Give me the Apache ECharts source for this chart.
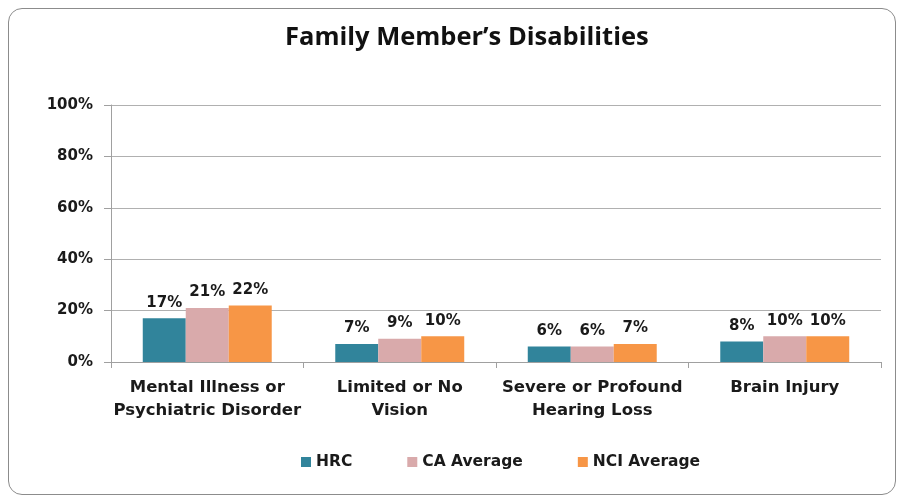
<!DOCTYPE html>
<html>
<head>
<meta charset="utf-8">
<script src="https://cdn.jsdelivr.net/npm/echarts@6/dist/echarts.min.js"></script>
<style>
  html, body { margin: 0; padding: 0; background: #fff; }
  #frame { position: absolute; left: 8px; top: 8px; width: 888px; height: 487px;
           border: 1.5px solid #8c8c8c; border-radius: 14px; box-sizing: border-box; }
  #chart { width: 902px; height: 502px; }
</style>
</head>
<body>
<div id="frame"></div>
<div id="chart"></div>
<script>
var categories = ['Mental Illness or\nPsychiatric Disorder', 'Limited or No\nVision', 'Severe or Profound\nHearing Loss', 'Brain Injury'];
var hrc = [17, 7, 6, 8];
var caAverage = [21, 9, 6, 10];
var nciAverage = [22, 10, 7, 10];
var yTicks = [0, 20, 40, 60, 80, 100];

var labelFont = 'DejaVu Sans';
var myChart = echarts.init(document.getElementById('chart'));

function barSeries(name, data, color) {
    return {
        name: name,
        type: 'bar',
        data: data,
        barGap: '0%',
        barCategoryGap: '33%',
        itemStyle: { color: color },
        label: {
            show: true,
            position: 'top',
            distance: 8,
            formatter: '{c}%',
            fontFamily: labelFont,
            fontWeight: 'bold',
            fontSize: 15,
            color: '#1a1a1a'
        }
    };
}

var option = {
    animation: false,
    title: {
        text: 'Family Member\u2019s Disabilities',
        left: 280,
        top: 20,
        textStyle: { fontFamily: 'Open Sans', fontWeight: 'bold', fontSize: 25.5, color: '#111' }
    },
    legend: {
        bottom: 27,
        left: 296,
        itemWidth: 10,
        itemHeight: 10,
        itemGap: 55,
        icon: 'rect',
        textStyle: { fontFamily: labelFont, fontWeight: 'bold', fontSize: 15.5, color: '#1a1a1a' },
        data: ['HRC', 'CA Average', 'NCI Average']
    },
    grid: { left: 111, right: 21, top: 105, bottom: 140 },
    xAxis: {
        type: 'category',
        data: categories,
        axisLine: { lineStyle: { color: '#a0a0a0' } },
        axisTick: { show: true, length: 6, lineStyle: { color: '#a0a0a0' } },
        axisLabel: {
            fontFamily: labelFont, fontWeight: 'bold', fontSize: 16.5, color: '#1a1a1a',
            margin: 14, lineHeight: 23, interval: 0
        }
    },
    yAxis: {
        type: 'value',
        min: 0,
        max: 100,
        interval: 20,
        axisLine: { show: true, lineStyle: { color: '#a0a0a0' } },
        axisTick: { show: true, length: 7, lineStyle: { color: '#a0a0a0' } },
        splitLine: { lineStyle: { color: '#b0b0b0' } },
        axisLabel: {
            fontFamily: labelFont, fontWeight: 'bold', fontSize: 15, color: '#1a1a1a', margin: 18,
            formatter: function (v) { return yTicks.indexOf(v) >= 0 ? v + '%' : ''; }
        }
    },
    series: [
        barSeries('HRC', hrc, '#31849B'),
        barSeries('CA Average', caAverage, '#D9AAAB'),
        barSeries('NCI Average', nciAverage, '#F79646')
    ]
};
myChart.setOption(option);
</script>
</body>
</html>
